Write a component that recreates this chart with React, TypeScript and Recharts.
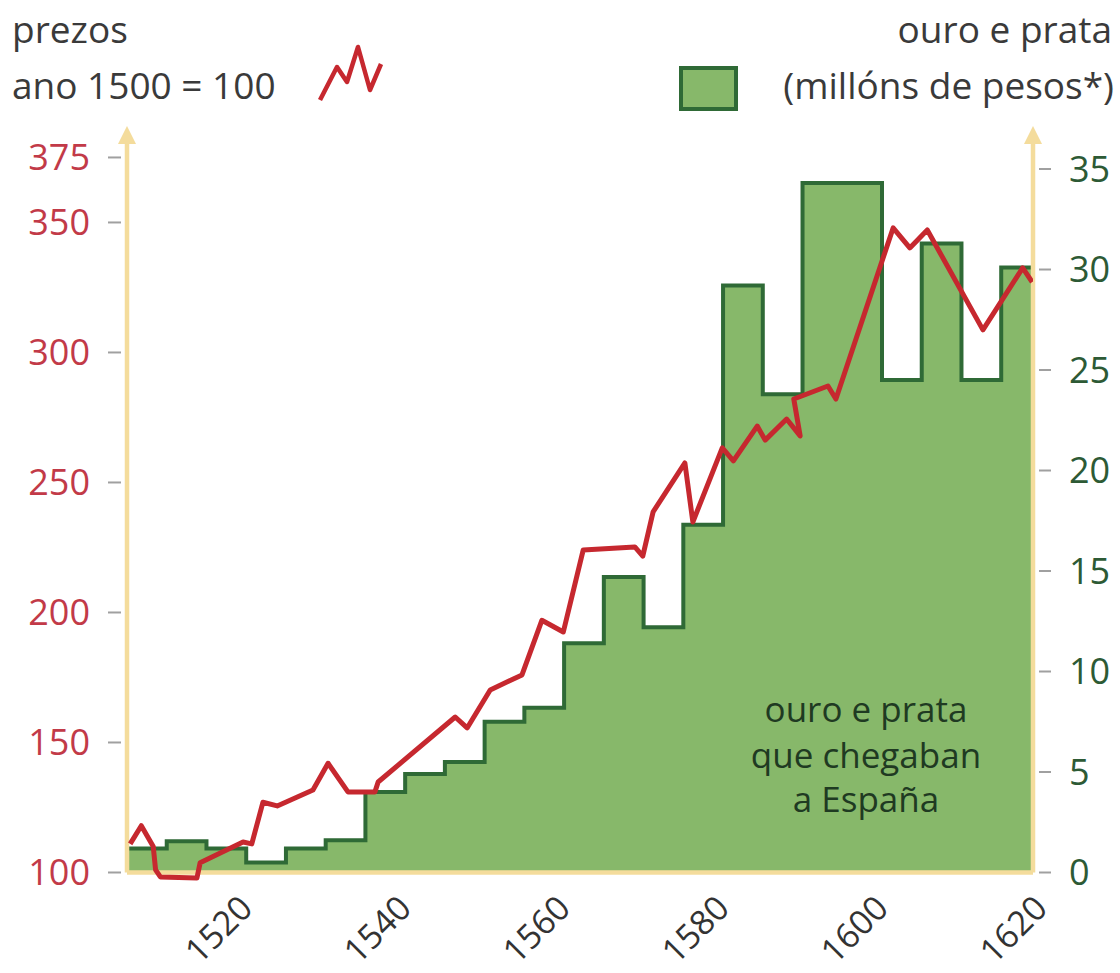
import { ComposedChart, Area, Line, XAxis, YAxis, ReferenceLine } from 'recharts';

// ouro e prata: 5-year periods, first year of each period
const goldStart = [
  1506, 1511, 1516, 1521, 1526, 1531, 1536, 1541, 1546, 1551, 1556, 1561,
  1566, 1571, 1576, 1581, 1586, 1591, 1596, 1601, 1606, 1611, 1616,
];
// millóns de pesos
const goldValues = [
  1.2, 1.55, 1.2, 0.5, 1.2, 1.6, 4.0, 4.9, 5.5, 7.5, 8.2, 11.4,
  14.7, 12.2, 17.3, 29.2, 23.8, 34.3, 34.3, 24.5, 31.3, 24.5, 30.1,
];
const goldEnd = 1620;

// prezos, ano 1500 = 100
const priceYears = [
  1506.4, 1507.8, 1509.3, 1509.6, 1510.2, 1514.8, 1515.2, 1520.6, 1521.7, 1523.1,
  1524.9, 1529.4, 1531.3, 1533.8, 1537.2, 1537.6, 1547.3, 1548.8, 1551.7, 1555.7,
  1558.2, 1560.9, 1563.4, 1569.9, 1570.9, 1572.2, 1576.2, 1577.2, 1580.9, 1582.3,
  1585.3, 1586.3, 1589.0, 1590.7, 1589.9, 1594.2, 1595.2, 1602.4, 1604.5, 1606.7,
  1613.7, 1618.7, 1619.9,
];
const priceValues = [
  111, 118, 110, 101, 98.3, 97.9, 103.7, 111.7, 111, 127,
  125.6, 131.7, 142, 131, 131, 134.8, 159.8, 155.6, 170.2, 176,
  197, 192.5, 224, 225.2, 221.7, 238.7, 257.5, 234.8, 263.3, 258.3,
  271.7, 266.3, 274.4, 267.9, 282.1, 287.1, 282.1, 347.9, 340.2, 347.1,
  308.7, 332.5, 327.1,
];

const yearTicks = [1520, 1540, 1560, 1580, 1600, 1620];
const priceTicks = [100, 150, 200, 250, 300, 350, 375];
const goldTicks = [0, 5, 10, 15, 20, 25, 30, 35];

const goldData = [
  ...goldStart.map((year, i) => ({ year, gold: goldValues[i] })),
  { year: goldEnd, gold: goldValues[goldValues.length - 1] },
];
const priceData = priceYears.map((year, i) => ({ year, price: priceValues[i] }));

const AXIS = '#f4dc9c';
const RED = '#c6282f';
const GREEN = '#87b86a';
const DARK_GREEN = '#2f6a36';
const FONT = '"Open Sans", "Noto Sans", sans-serif';

const ArrowAxis = (props: any) => {
  const { x1, y1, x2, y2 } = props;
  return (
    <g>
      <line x1={x1} y1={y1} x2={x2} y2={y2 + 12} stroke={AXIS} strokeWidth={4.5} />
      <polygon points={`${x2},${y2} ${x2 - 9},${y2 + 18} ${x2 + 9},${y2 + 18}`} fill={AXIS} />
    </g>
  );
};

const LeftTick = ({ x, y, payload }: any) => (
  <g>
    <line x1={x - 19} x2={x - 6} y1={y} y2={y} stroke="#a0a0a0" strokeWidth={2} />
    <text x={x - 37} y={y} dy="0.36em" textAnchor="end" fill="#c23a48" fontSize={36} fontFamily={FONT}>
      {payload.value}
    </text>
  </g>
);

const RightTick = ({ x, y, payload }: any) => (
  <g>
    <line x1={x + 6} x2={x + 18} y1={y} y2={y} stroke="#a0a0a0" strokeWidth={2} />
    <text x={x + 36} y={y} dy="0.36em" textAnchor="start" fill="#2d5a35" fontSize={36} fontFamily={FONT}>
      {payload.value}
    </text>
  </g>
);

const YearTick = ({ x, y, payload }: any) => {
  const cx = x - 20;
  const cy = y + 44;
  return (
    <text
      x={cx}
      y={cy}
      dy="0.36em"
      textAnchor="middle"
      transform={`rotate(-45 ${cx} ${cy})`}
      fill="#333"
      fontSize={34}
      fontFamily={FONT}
    >
      {payload.value}
    </text>
  );
};

export default function App() {
  return (
    <div style={{ position: 'absolute', left: 0, top: 0, width: 1120, height: 973, background: '#fff', fontFamily: FONT }}>
      <ComposedChart width={1120} height={973} margin={{ top: 126, right: 0, bottom: 0, left: 0 }}>
        <XAxis
          dataKey="year"
          type="number"
          domain={[1506, 1620]}
          allowDataOverflow
          ticks={yearTicks}
          axisLine={false}
          tickLine={false}
          tickSize={0}
          tickMargin={0}
          height={88}
          tick={<YearTick />}
        />
        <YAxis
          yAxisId="left"
          orientation="left"
          domain={[95.19, 387.1]}
          allowDataOverflow
          ticks={priceTicks}
          axisLine={false}
          tickLine={false}
          tickSize={0}
          tickMargin={0}
          width={127}
          tick={<LeftTick />}
        />
        <YAxis
          yAxisId="right"
          orientation="right"
          domain={[-0.622, 37.14]}
          allowDataOverflow
          ticks={goldTicks}
          axisLine={false}
          tickLine={false}
          tickSize={0}
          tickMargin={0}
          width={87}
          tick={<RightTick />}
        />
        <ReferenceLine
          yAxisId="left"
          segment={[{ x: 1506, y: 100 }, { x: 1620, y: 100 }]}
          stroke={AXIS}
          strokeWidth={4.5}
          ifOverflow="visible"
        />
        <Area
          yAxisId="right"
          data={goldData}
          dataKey="gold"
          type="stepAfter"
          baseValue={0}
          fill={GREEN}
          fillOpacity={1}
          stroke={DARK_GREEN}
          strokeWidth={4}
          isAnimationActive={false}
        />
        <ReferenceLine
          yAxisId="left"
          segment={[{ x: 1506, y: 100 }, { x: 1506, y: 387.1 }]}
          ifOverflow="visible"
          shape={ArrowAxis}
        />
        <ReferenceLine
          yAxisId="right"
          segment={[{ x: 1620, y: 0 }, { x: 1620, y: 37.14 }]}
          ifOverflow="visible"
          shape={ArrowAxis}
        />
        <Line
          yAxisId="left"
          data={priceData}
          dataKey="price"
          type="linear"
          stroke={RED}
          strokeWidth={5}
          strokeLinejoin="round"
          dot={false}
          activeDot={false}
          isAnimationActive={false}
        />
      </ComposedChart>

      <svg
        width={1120}
        height={973}
        style={{ position: 'absolute', left: 0, top: 0, pointerEvents: 'none' }}
        fontFamily={FONT}
      >
        <text x={12} y={43} fontSize={37} fill="#3a3a3a">prezos</text>
        <text x={12} y={99} fontSize={37} fill="#3a3a3a">ano 1500 = 100</text>
        <polyline
          points="320,100 337,67 347,82 358,47 370,90 381,64"
          fill="none"
          stroke={RED}
          strokeWidth={4.5}
          strokeLinejoin="round"
        />
        <rect x={681} y={68} width={55} height={41} fill={GREEN} stroke={DARK_GREEN} strokeWidth={4} />
        <text x={1112} y={43} fontSize={37} fill="#3a3a3a" textAnchor="end">ouro e prata</text>
        <text x={1114} y={99} fontSize={37} fill="#3a3a3a" textAnchor="end">(millóns de pesos*)</text>
        <g fill="#1f3a22" fontSize={35} fontWeight={500} textAnchor="middle">
          <text x={866} y={722}>ouro e prata</text>
          <text x={866} y={768}>que chegaban</text>
          <text x={866} y={812}>a España</text>
        </g>
      </svg>
    </div>
  );
}
